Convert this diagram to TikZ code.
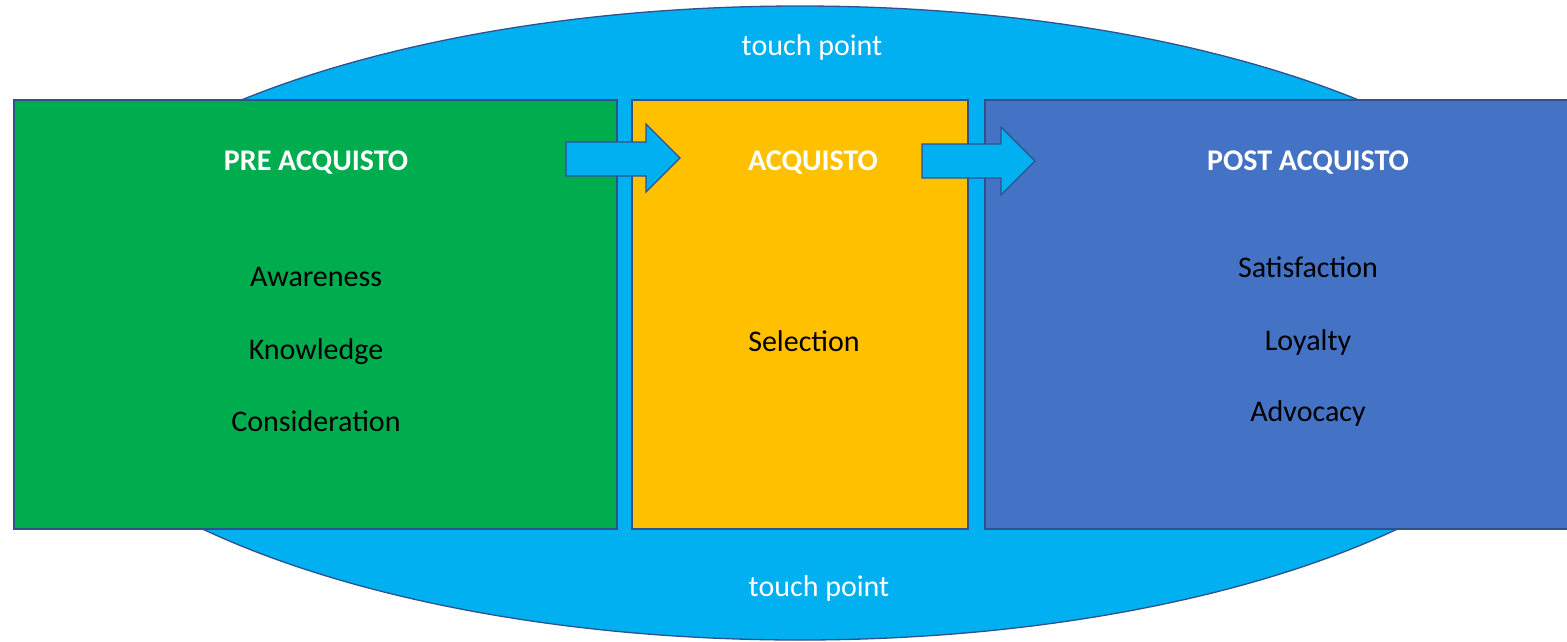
\documentclass[tikz,border=0pt]{standalone}
\usepackage{fontspec}
\setmainfont{Carlito}
\definecolor{tpblue}{HTML}{00B0F0}
\definecolor{prefill}{HTML}{00AD4E}
\definecolor{acqfill}{HTML}{FFC000}
\definecolor{postfill}{HTML}{4472C4}
\definecolor{edge}{HTML}{2F528F}
\tikzset{
  stagebox/.style={draw=edge, line width=1.3pt, anchor=north west, inner sep=0pt, outer sep=0pt},
  heading/.style={anchor=base, text=white, font=\fontsize{30}{36}\selectfont\bfseries},
  item/.style={anchor=base, text=black, font=\fontsize{30}{36}\selectfont},
  tplabel/.style={anchor=base, text=white, font=\fontsize{30}{36}\selectfont},
  flowarrow/.style={draw=edge, line width=1.3pt, fill=tpblue, line join=miter},
}
\begin{document}
\begin{tikzpicture}[x=1pt,y=-1pt]
\useasboundingbox (0,0) rectangle (1567,641);
\begin{scope}
\clip (0,0) rectangle (1567,641);
\draw[draw=edge, line width=1.3pt, fill=tpblue] (800,323) ellipse [x radius=786, y radius=317];
\end{scope}
\node[tplabel] (tptop) at (812,55) {touch point};
\node[tplabel] (tpbot) at (819,596) {touch point};

\node[stagebox, fill=prefill, minimum width=603pt, minimum height=429pt] (pre) at (14,100) {};
\node[stagebox, fill=acqfill, minimum width=336pt, minimum height=429pt] (acq) at (632,100) {};
\node[stagebox, fill=postfill, minimum width=600pt, minimum height=429pt] (post) at (985,100) {};

% arrows
\draw[flowarrow] (566,142) -- (646,142) -- (646,124) -- (680,158) -- (646,192) -- (646,176) -- (566,176) -- cycle;
\draw[flowarrow] (922,144) -- (1001,144) -- (1001,127) -- (1035,161) -- (1001,195) -- (1001,178) -- (922,178) -- cycle;

\node[heading] (preh) at (316,170) {PRE ACQUISTO};
\node[item] (aw) at (316,286) {Awareness};
\node[item] (kn) at (316,359) {Knowledge};
\node[item] (co) at (316,431) {Consideration};

\node[heading] (acqh) at (813,170) {ACQUISTO};
\node[item] (se) at (804,351) {Selection};

\node[heading] (posth) at (1308,170) {POST ACQUISTO};
\node[item] (sa) at (1308,277) {Satisfaction};
\node[item] (lo) at (1308,350) {Loyalty};
\node[item] (ad) at (1308,421) {Advocacy};
\end{tikzpicture}
\end{document}
